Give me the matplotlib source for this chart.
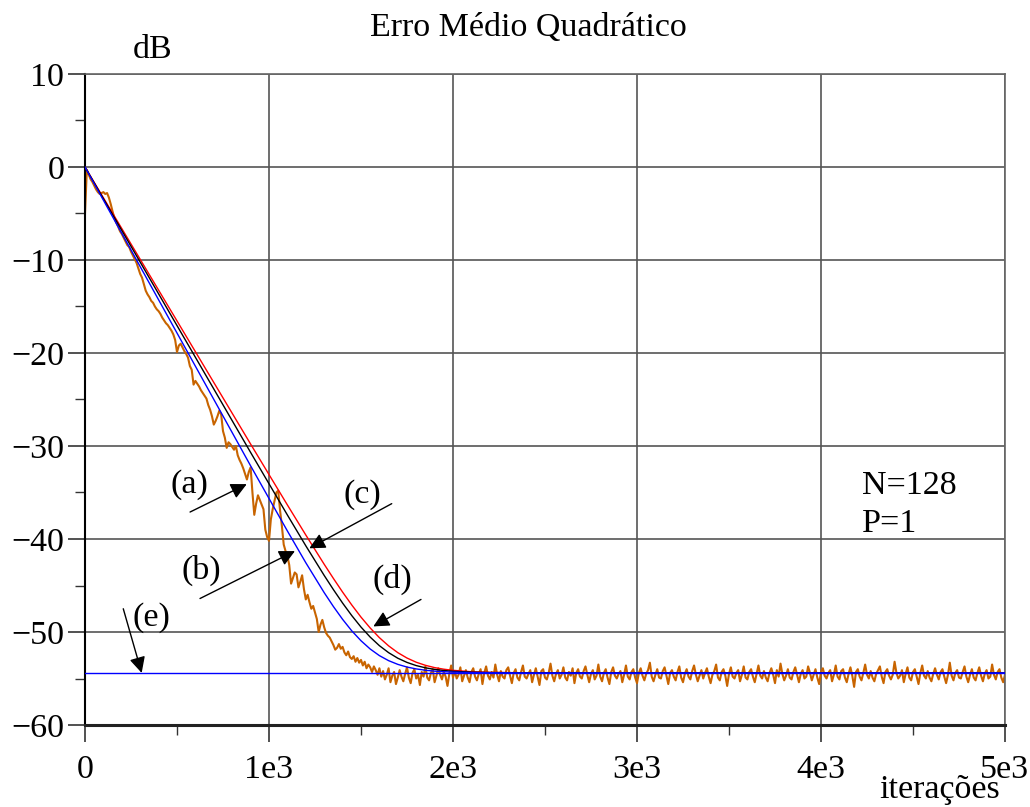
import matplotlib
matplotlib.use("Agg")
import matplotlib.pyplot as plt
import numpy as np

plt.rcParams['font.family'] = ['Liberation Serif', 'DejaVu Serif']

#####################   Data   ##################################
# theoretical curves (dB)
n_theory = [0, 100, 200, 300, 400, 500, 600, 700, 800, 900, 1000, 1100, 1200,
            1300, 1350, 1400, 1450, 1500, 1550, 1600, 1650, 1700, 1750, 1800,
            1850, 1900, 1950, 2000, 2100, 2200, 2400, 5000]
curve_d = [0, -3.31, -6.62, -9.93, -13.24, -16.55, -19.86, -23.17, -26.48, -29.79,
           -33.07, -36.34, -39.57, -42.72, -44.24, -45.71, -47.10, -48.40, -49.57,
           -50.61, -51.49, -52.22, -52.80, -53.25, -53.58, -53.83, -54.00, -54.12,
           -54.27, -54.34, -54.39, -54.40]
curve_c = [0, -3.41, -6.82, -10.23, -13.64, -17.05, -20.46, -23.87, -27.28, -30.69,
           -34.06, -37.42, -40.73, -43.92, -45.44, -46.89, -48.24, -49.47, -50.55,
           -51.47, -52.22, -52.82, -53.27, -53.61, -53.85, -54.02, -54.14, -54.22,
           -54.32, -54.36, -54.39, -54.40]
curve_b = [0, -3.57, -7.14, -10.71, -14.28, -17.85, -21.42, -24.99, -28.56, -32.13,
           -35.64, -39.14, -42.55, -45.77, -47.26, -48.64, -49.88, -50.94, -51.83,
           -52.54, -53.08, -53.48, -53.77, -53.97, -54.11, -54.21, -54.27, -54.31,
           -54.36, -54.38, -54.40, -54.40]
floor_db = -54.4

# simulated MSE (dB), one value every 10 iterations
mse_transient = [
    -5.0, -0.3, -0.8, -1.3, -1.6, -2.0, -2.4, -2.7, -2.9, -2.8,
    -2.7, -2.9, -2.8, -3.3, -4.0, -4.8, -5.5, -6.0, -6.4, -6.9,
    -7.2, -7.6, -8.0, -8.4, -8.6, -9.1, -9.5, -9.9, -10.3, -10.9,
    -11.5, -11.9, -12.6, -13.3, -13.7, -14.0, -14.4, -14.6, -15.0, -15.3,
    -15.5, -15.8, -16.2, -16.5, -16.8, -17.0, -17.3, -17.6, -18.0, -18.6,
    -19.9, -19.2, -19.0, -19.4, -19.8, -20.1, -20.5, -21.4, -21.8, -23.4,
    -23.0, -23.3, -23.6, -24.0, -24.3, -24.6, -24.9, -25.6, -26.1, -26.8,
    -27.7, -27.3, -26.8, -26.2, -26.6, -28.4, -29.1, -30.2, -29.6, -29.8,
    -30.1, -30.4, -30.0, -31.0, -31.5, -31.9, -32.4, -33.0, -33.6, -32.8,
    -32.3, -35.0, -37.4, -36.2, -35.3, -35.8, -36.3, -36.8, -39.0, -39.8,
    -40.2, -37.9, -36.8, -35.9, -35.0, -34.8, -36.9, -38.6, -40.6, -41.3,
    -41.8, -42.8, -44.8, -44.2, -43.6, -43.8, -45.2, -44.6, -43.9, -45.4,
    -46.5, -46.0, -46.8, -47.5, -47.2, -47.9, -48.6, -50.0, -49.2, -48.7,
    -49.5, -50.1, -50.4, -50.6, -51.0, -51.4, -51.9, -51.7, -51.3, -51.8,
    -51.6, -52.2, -52.5, -52.1, -52.7, -52.9, -52.6, -53.2, -52.8, -53.3,
    -53.0, -53.6, -53.2, -53.9, -53.5, -53.8, -54.3, -53.7, -54.1, -54.6,
    -53.9]
mse_steady = [
    -54.8, -54.2, -55.1, -54.6, -53.9, -55.4, -54.7, -54.3, -55.6, -54.9, -54.1, -54.8, -55.3, -54.5, -53.8, -54.9, -55.5, -54.4, -54.0, -55.0,
    -54.6, -55.7, -54.3, -54.8, -53.7, -54.9, -55.2, -54.4, -54.0, -55.4, -54.7, -53.9, -54.6, -55.1, -54.3, -54.8, -55.8, -54.5, -53.6, -54.9,
    -54.2, -55.0, -54.6, -53.8, -55.3, -54.7, -54.1, -54.9, -55.4, -54.3, -53.9, -54.8, -55.2, -54.5, -54.0, -55.6, -54.4, -53.7, -54.7, -55.1,
    -54.3, -54.9, -53.5, -54.6, -55.3, -54.2, -54.8, -55.0, -54.1, -53.8, -54.7, -55.5, -54.4, -54.0, -54.9, -55.2, -54.3, -53.6, -54.8, -55.0,
    -54.5, -54.1, -55.4, -54.6, -53.9, -54.8, -55.7, -54.2, -54.0, -54.9, -55.1, -54.4, -53.4, -54.7, -55.3, -54.5, -54.1, -55.0, -54.6, -53.8,
    -54.9, -55.2, -54.3, -54.7, -53.9, -55.5, -54.4, -54.0, -54.8, -55.0, -54.2, -53.7, -54.6, -55.4, -54.5, -54.1, -55.1, -54.7, -53.5, -54.8,
    -55.3, -54.4, -54.0, -54.9, -55.6, -54.3, -53.8, -54.7, -55.0, -54.5, -54.2, -55.4, -54.6, -53.6, -54.8, -55.1, -54.3, -54.0, -54.9, -55.5,
    -54.4, -53.9, -54.7, -55.2, -54.5, -54.1, -53.3, -54.8, -55.3, -54.6, -54.0, -54.9, -55.0, -54.2, -53.8, -54.7, -55.6, -54.4, -54.1, -54.8,
    -55.2, -54.3, -53.7, -54.9, -55.4, -54.5, -54.0, -54.8, -55.1, -54.2, -53.6, -54.6, -55.3, -54.7, -54.1, -55.0, -54.4, -53.9, -54.8, -55.5,
    -54.6, -54.2, -53.5, -54.9, -55.2, -54.3, -54.0, -54.7, -55.8, -54.5, -53.8, -54.8, -55.0, -54.4, -54.1, -55.3, -54.6, -53.7, -54.9, -55.1,
    -54.3, -54.0, -54.8, -55.4, -54.5, -53.6, -54.7, -55.0, -54.2, -54.9, -55.3, -54.4, -53.9, -54.6, -55.5, -54.1, -54.8, -53.4, -54.5, -55.2,
    -54.7, -54.0, -54.9, -55.1, -54.3, -53.8, -54.6, -55.4, -54.5, -54.1, -55.0, -54.8, -53.7, -54.4, -55.2, -54.6, -54.0, -54.9, -55.6, -54.3,
    -53.9, -54.7, -55.0, -54.4, -54.1, -55.3, -54.6, -53.6, -54.8, -55.1, -54.2, -54.0, -54.9, -55.4, -54.5, -53.8, -54.7, -55.9, -54.3, -54.0,
    -54.8, -55.2, -54.4, -53.5, -54.6, -55.0, -54.2, -54.9, -55.3, -54.5, -54.1, -53.7, -54.8, -55.5, -54.3, -54.0, -54.7, -55.1, -54.6, -53.2,
    -54.4, -55.0, -54.7, -54.1, -55.4, -54.5, -53.8, -54.9, -55.2, -54.3, -54.0, -54.8, -55.6, -54.4, -53.6, -54.7, -55.0, -54.2, -54.9, -55.3,
    -54.5, -53.9, -54.6, -55.1, -54.3, -54.0, -54.8, -55.5, -54.6, -53.3, -54.7, -55.2, -54.4, -54.1, -54.9, -55.0, -54.3, -53.7, -54.8, -55.4,
    -54.6, -54.0, -54.9, -55.2, -54.4, -53.8, -54.7, -55.3, -54.5, -54.1, -55.0, -54.8, -53.5, -54.6, -55.1, -54.3, -54.0, -54.9, -55.4, -54.6]
mse = mse_transient + mse_steady
n_mse = np.arange(len(mse)) * 10

x_ticks = [0, 1000, 2000, 3000, 4000, 5000]
x_labels = ['0', '1e3', '2e3', '3e3', '4e3', '5e3']
y_ticks = [-60, -50, -40, -30, -20, -10, 0, 10]

# annotations: label, text pos, arrow tail, arrow tip
notes = [('(a)', (565, -34.1), (571, -37.1), (879, -34.1)),
         ('(b)', (630, -43.4), (625, -46.4), (1141, -41.3)),
         ('(c)', (1508, -35.2), (1667, -36.2), (1219, -41.0)),
         ('(d)', (1671, -44.3), (1826, -46.5), (1567, -49.4)),
         ('(e)', (362, -48.5), (208, -47.5), (308, -54.4))]

FS = 24.5

################# PLOT ######################
fig = plt.figure(figsize=(10.3, 8.07), dpi=100)
ax = fig.add_axes([85 / 1030, 82 / 807, 920 / 1030, 651 / 807])

ax.plot(n_mse, mse, color='#c86400', lw=1.5, zorder=2)
ax.plot(n_theory, curve_d, color='#ff0000', lw=1.0, zorder=3)
ax.plot(n_theory, curve_c, color='black', lw=1.0, zorder=3)
ax.plot(n_theory, curve_b, color='#0000ff', lw=1.0, zorder=3)
ax.axhline(floor_db, color='#0000ff', lw=1.0, zorder=4)

ax.set_xlim(0, 5000)
ax.set_ylim(-60, 10)
ax.set_xticks(x_ticks)
ax.set_xticklabels(x_labels)
ax.set_xticks(np.arange(500, 5000, 1000), minor=True)
ax.set_yticks(y_ticks)
ax.set_yticklabels([str(v).replace('-', '\u2212') for v in y_ticks])
ax.set_yticks(np.arange(-55, 10, 10), minor=True)
ax.tick_params(axis='both', which='major', direction='out', length=12, width=1.2,
               labelsize=FS, color='#333333')
ax.tick_params(axis='both', which='minor', direction='out', length=7, width=1.0,
               color='#333333')
ax.tick_params(axis='x', which='major', pad=9)
ax.tick_params(axis='y', which='major', pad=3)

ax.grid(True, which='major', color='#555555', lw=1.2)
ax.set_axisbelow(True)
for s in ['top', 'right']:
    ax.spines[s].set_color('#666666')
    ax.spines[s].set_linewidth(1.2)
ax.spines['left'].set_linewidth(1.5)
ax.spines['bottom'].set_linewidth(2.2)
ax.spines['bottom'].set_color('#222222')

for label, txt, tail, tip in notes:
    ax.text(txt[0], txt[1], label, fontsize=FS, ha='center', va='center')
    ax.annotate('', xy=tip, xytext=tail,
                arrowprops=dict(arrowstyle='-|>', mutation_scale=24, lw=1.0,
                                color='black', shrinkA=0, shrinkB=0))

ax.text(4223, -34.3, 'N=128', fontsize=FS, ha='left', va='center')
ax.text(4223, -38.4, 'P=1', fontsize=FS, ha='left', va='center')

fig.text(528 / 1030, 1 - 28 / 807, 'Erro Médio Quadrático', fontsize=FS,
         ha='center', va='center')
fig.text(153 / 1030, 1 - 50 / 807, 'dB', fontsize=FS, ha='center', va='center')
fig.text(940 / 1030, 1 - 790 / 807, 'iterações', fontsize=FS, ha='center', va='center')

plt.savefig('out.png', dpi=100)
